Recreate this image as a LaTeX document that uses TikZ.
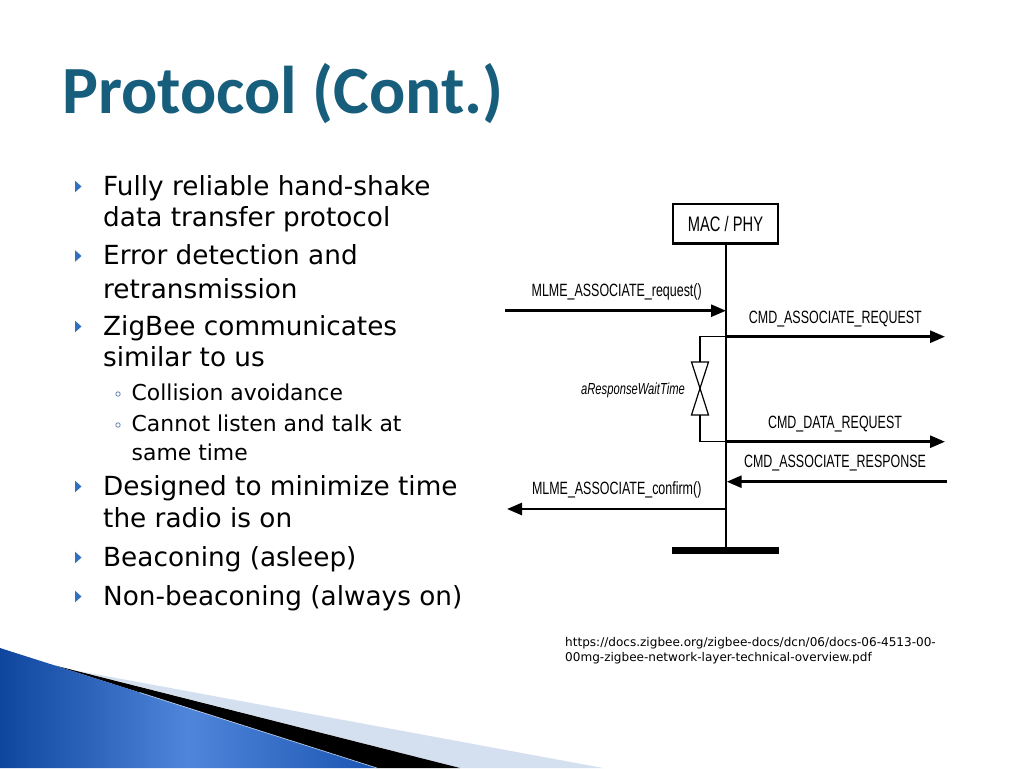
\documentclass[tikz,border=0pt]{standalone}
\usepackage{fontspec}
\setmainfont{DejaVu Sans}
\newfontfamily\titlefont{Carlito}
\newfontfamily\narrowfont[FakeStretch=0.7]{Liberation Sans}
\usetikzlibrary{arrows.meta}
\definecolor{titleblue}{RGB}{23,94,124}
\definecolor{bulletblue}{RGB}{49,112,192}
\definecolor{subbullet}{RGB}{110,140,180}
\definecolor{swdark}{RGB}{14,70,158}
\definecolor{swlight}{RGB}{80,134,218}
\definecolor{swmid}{RGB}{26,84,178}
\definecolor{swpale}{RGB}{212,223,240}
\tikzset{
  bodytext/.style={anchor=base west, inner sep=0pt, font=\fontsize{26.3}{30}\selectfont},
  subtext/.style={anchor=base west, inner sep=0pt, font=\fontsize{21.9}{26}\selectfont},
  lbl/.style={anchor=base, inner sep=0pt, font=\narrowfont\fontsize{17.8}{20}\selectfont},
  msg/.style={line width=2.7pt, -{Triangle[length=15pt,width=12pt]}},
  lifeline/.style={line width=1.7pt},
  bracket/.style={line width=1.2pt},
}
\begin{document}
\begin{tikzpicture}[x=1pt,y=-1pt]
\useasboundingbox (0,0) rectangle (1024,768);
\fill[white] (0,0) rectangle (1024,768);

% title
\node[anchor=base west, inner sep=0pt, text=titleblue, font=\titlefont\bfseries\fontsize{67.5}{70}\selectfont] (title) at (62,113) {Protocol (Cont.)};

% bullets
\foreach \b in {195,264.5,335,495,566,605}{
  \fill[bulletblue] (75,\b-14.3) -- (81.5,\b-8.5) -- (75,\b-2.7) -- cycle;
}
\foreach \b in {400.5,431.5}{
  \draw[subbullet, line width=0.9pt] (118,\b-6.5) circle (2.2);
}
\node[bodytext] (b1) at (103,195) {Fully reliable hand-shake};
\node[bodytext] (b2) at (103,226.5) {data transfer protocol};
\node[bodytext] (b3) at (103,264.5) {Error detection and};
\node[bodytext] (b4) at (103,298.5) {retransmission};
\node[bodytext] (b5) at (103,335) {ZigBee communicates};
\node[bodytext] (b6) at (103,366.5) {similar to us};
\node[subtext] (s1) at (131.5,400.5) {Collision avoidance};
\node[subtext] (s2) at (131.5,431.5) {Cannot listen and talk at};
\node[subtext] (s3) at (131.5,460) {same time};
\node[bodytext] (b7) at (103,495) {Designed to minimize time};
\node[bodytext] (b8) at (103,527) {the radio is on};
\node[bodytext] (b9) at (103,566) {Beaconing (asleep)};
\node[bodytext] (b10) at (103,605) {Non-beaconing (always on)};

% sequence diagram
\node[draw, line width=2.3pt, minimum width=105.6pt, minimum height=39.3pt, inner sep=0pt] (mac) at (725.5,223.7) {};
\node[lbl, font=\narrowfont\fontsize{21}{23}\selectfont] (mactext) at (725.5,231) {MAC / PHY};
\coordinate (lend) at (726,550.5);
\draw[lifeline] (mac.south -| lend) -- (lend);
\draw[line width=7.7pt] (672,550.5) -- (779,550.5);
\node (bar) at (725.5,550.5) {};

\coordinate (l1) at (726,310.7);
\coordinate (l2) at (726,336.7);
\coordinate (l3) at (726,441.7);
\coordinate (l4) at (726.7,481.7);
\coordinate (l5) at (726,509);
\coordinate (src1) at (505,310.7);
\coordinate (dst2) at (945,336.7);
\coordinate (dst3) at (945,441.7);
\coordinate (src4) at (946.7,481.7);
\coordinate (dst5) at (507,509);

\draw[msg] (src1) -- (l1);
\draw[msg] (l2) -- (dst2);
\draw[msg] (l3) -- (dst3);
\draw[msg] (src4) -- (l4);
\draw[msg] (l5) -- (dst5);

\node[lbl] (m1) at (616.7,296) {MLME\_ASSOCIATE\_request()};
\node[lbl] (m2) at (835.3,323.3) {CMD\_ASSOCIATE\_REQUEST};
\node[lbl] (m3) at (835,428.3) {CMD\_DATA\_REQUEST};
\node[lbl] (m4) at (835,467.7) {CMD\_ASSOCIATE\_RESPONSE};
\node[lbl] (m5) at (616.7,494.3) {MLME\_ASSOCIATE\_confirm()};

% response wait time bracket
\coordinate (hg1) at (700,362);
\coordinate (hgm) at (700,388.3);
\coordinate (hg2) at (700,415);
\draw[bracket] (l2) -| (hg1);
\draw[bracket, line join=miter] (691.5,362) -- (708.5,362) -- (hgm) -- cycle;
\draw[bracket, line join=miter] (691.5,415) -- (708.5,415) -- (hgm) -- cycle;
\draw[bracket] (hg2) |- (l3);
\node[lbl, font=\narrowfont\itshape\fontsize{16}{18}\selectfont] (wait) at (633,394) {aResponseWaitTime};

% reference
\node[anchor=base west, inner sep=0pt, align=left, font=\fontsize{12.05}{15}\selectfont] (url) at (565,661) {https://docs.zigbee.org/zigbee-docs/dcn/06/docs-06-4513-00-\\00mg-zigbee-network-layer-technical-overview.pdf};

% bottom-left swoosh
\fill[swpale] (80,671.3) -- (603,768) -- (460,768) -- cycle;
\fill[black] (55,665.5) -- (460,768) -- (377,768) -- cycle;
\shade[left color=swdark, right color=swmid, middle color=swlight] (0,648) -- (377,768) -- (0,768) -- cycle;
\draw[swpale, line width=0.8pt, opacity=0.7] (140,692.6) -- (377,768);
\end{tikzpicture}
\end{document}
